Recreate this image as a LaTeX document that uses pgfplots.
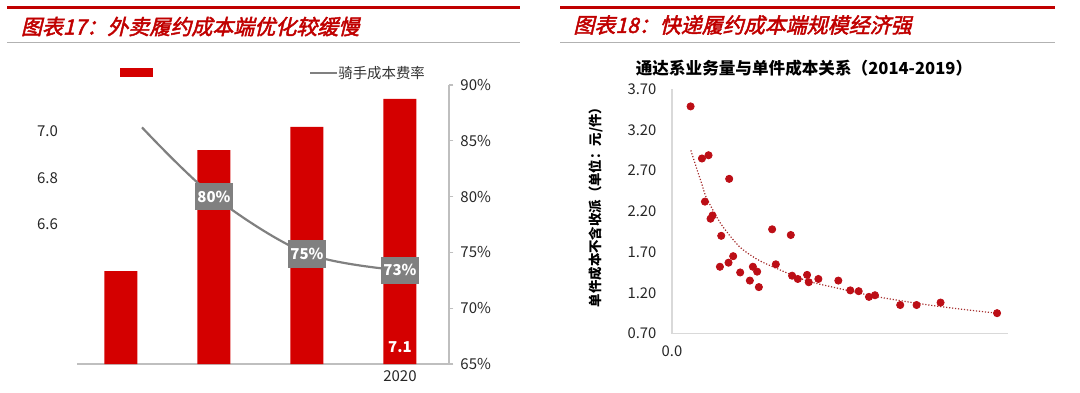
\documentclass[border=0pt]{standalone}
\usepackage{fontspec}
\usepackage{pgfplots}
\pgfplotsset{compat=1.18}
\setmainfont{Noto Sans CJK SC}
\newfontfamily\titlefont{Noto Sans CJK SC}[FakeSlant=0.24,FakeBold=2.2]
\definecolor{barred}{RGB}{212,0,0}
\definecolor{titlered}{RGB}{192,0,0}
\definecolor{dotred}{RGB}{188,14,22}
\definecolor{trendred}{RGB}{165,45,45}
\definecolor{linegray}{RGB}{128,128,128}
\definecolor{axgray}{RGB}{191,191,191}
\definecolor{axlight}{RGB}{217,217,217}
\begin{document}
\begin{tikzpicture}
\useasboundingbox (0,0) rectangle (540pt,196pt);
% ---------- headers ----------
\draw[titlered, line width=1.5pt] (3.5pt,192.3pt) -- (260pt,192.3pt);
\draw[gray!60, line width=0.5pt] (3.5pt,174.8pt) -- (260pt,174.8pt);
\node[anchor=west, inner sep=0pt, text=titlered, font=\titlefont\fontsize{10.5pt}{12pt}\selectfont] at (10.3pt,182.7pt) {图表17：外卖履约成本端优化较缓慢};
\draw[titlered, line width=1.5pt] (280pt,192.3pt) -- (527.5pt,192.3pt);
\draw[gray!60, line width=0.5pt] (280pt,174.7pt) -- (527.5pt,174.7pt);
\node[anchor=west, inner sep=0pt, text=titlered, font=\titlefont\fontsize{10.5pt}{12pt}\selectfont] at (286.5pt,183.5pt) {图表18：快递履约成本端规模经济强};
% ---------- left legend ----------
\fill[barred] (60pt,157.5pt) rectangle (76.5pt,162pt);
\draw[linegray, line width=1.1pt] (155pt,159.6pt) -- (168.5pt,159.6pt);
\node[anchor=west, inner sep=0pt, text=black!80, font=\fontsize{7.2pt}{9pt}\selectfont] at (169pt,159.6pt) {骑手成本费率};
% ---------- left chart: bars ----------
\begin{axis}[
  at={(38.5pt,14pt)}, anchor=south west, scale only axis,
  width=186pt, height=139.5pt,
  xmin=-0.473, xmax=3.527, ymin=6.0, ymax=7.2,
  axis x line*=bottom, axis y line*=left,
  x axis line style={axgray, line width=0.6pt, -},
  y axis line style={draw=none},
  xtick={3}, xticklabels={2020},
  xtick style={draw=none}, ytick style={draw=none},
  ytick={6.6,6.8,7.0},
  yticklabel style={/pgf/number format/fixed, /pgf/number format/fixed zerofill, /pgf/number format/precision=1, xshift=-6pt},
  /pgf/number format/assume math mode=true,
  tick label style={font=\fontsize{7.5pt}{9pt}\selectfont, text=black!85},
  clip=false,
]
\addplot[ybar, bar width=16.5pt, fill=barred, draw=none] coordinates {(0,6.40) (1,6.92) (2,7.02) (3,7.14)};
\node[text=white, font=\bfseries\fontsize{7.5pt}{9pt}\selectfont] at (axis cs:3,6.073) {7.1};
\end{axis}
% ---------- left chart: line on right axis ----------
\begin{axis}[
  at={(38.5pt,14pt)}, anchor=south west, scale only axis,
  width=186pt, height=139.5pt,
  xmin=-0.473, xmax=3.527, ymin=65, ymax=90,
  axis y line*=right, axis x line=none,
  y axis line style={axgray, line width=0.6pt, -},
  ytick={65,70,75,80,85,90},
  yticklabel={\pgfmathprintnumber{\tick}\%},
  ytick style={axgray, line width=0.6pt}, tick align=outside, major tick length=2.2pt,
  /pgf/number format/assume math mode=true,
  tick label style={font=\fontsize{7.5pt}{9pt}\selectfont, text=black!85},
  clip=false,
]
\addplot[linegray, line width=1.1pt, smooth, tension=0.55] coordinates {(0.226,86.2) (1,80) (2,74.9) (3,73.4)};
\addplot[draw=none, mark=none, nodes near coords, point meta=explicit symbolic,
  every node near coord/.append style={anchor=center, fill=linegray, text=white,
  font=\bfseries\fontsize{7.5pt}{9pt}\selectfont, minimum width=18pt, minimum height=13.6pt, inner sep=1pt}]
  coordinates {(1,80) [80\%] (2,74.85) [75\%] (3,73.4) [73\%]};
\end{axis}
% ---------- right chart ----------
\node[font=\bfseries\fontsize{8.3pt}{10pt}\selectfont] at (402pt,161.9pt) {通达系业务量与单件成本关系（2014-2019）};
\begin{axis}[
  at={(336pt,29.25pt)}, anchor=south west, scale only axis,
  width=168pt, height=122.1pt,
  xmin=0, xmax=100, ymin=0.7, ymax=3.7,
  axis x line*=bottom, axis y line*=left,
  axis line style={axlight, line width=0.8pt, -},
  xtick={0}, xticklabels={0.0},
  ytick={0.7,1.2,1.7,2.2,2.7,3.2,3.7},
  yticklabel style={/pgf/number format/fixed, /pgf/number format/fixed zerofill, /pgf/number format/precision=2, xshift=-4.3pt},
  /pgf/number format/assume math mode=true,
  tick style={draw=none},
  tick label style={font=\fontsize{7.4pt}{9pt}\selectfont, text=black!85},
  xticklabel style={yshift=-2.5pt},
  ylabel={单件成本不含收派（单位：元/件）},
  every axis y label/.style={at={(rel axis cs:-0.226,0.53)}, rotate=90, anchor=center,
     font=\bfseries\fontsize{6.7pt}{8pt}\selectfont},
  clip=false,
]
\addplot[trendred, line width=0.6pt, dash pattern=on 0.6pt off 0.9pt, smooth] coordinates {
(5.6,2.95) (7.4,2.72) (9,2.52) (10,2.39) (12.4,2.20) (15,2.02) (20,1.77) (25,1.62) (30,1.52)
(40,1.35) (50,1.25) (60,1.16) (70,1.09) (80,1.03) (90,0.98) (96.7,0.95)};
\addplot[only marks, mark=*, mark size=1.8pt, mark options={fill=dotred, draw=dotred}] coordinates {
(5.53,3.49) (8.91,2.85) (10.87,2.89) (17.02,2.60) (9.80,2.32) (12.06,2.15) (11.47,2.11)
(14.65,1.90) (29.80,1.98) (35.35,1.91) (14.26,1.52) (16.82,1.57) (18.21,1.65) (20.29,1.45)
(24.07,1.52) (25.34,1.46) (23.17,1.35) (25.85,1.27) (30.90,1.55) (35.74,1.41) (37.43,1.37)
(40.20,1.42) (40.70,1.33) (43.56,1.37) (49.50,1.35) (53.06,1.23) (55.56,1.22) (58.62,1.15)
(60.40,1.17) (67.92,1.05) (72.79,1.05) (79.92,1.08) (96.74,0.95)};
\end{axis}
\end{tikzpicture}
\end{document}
